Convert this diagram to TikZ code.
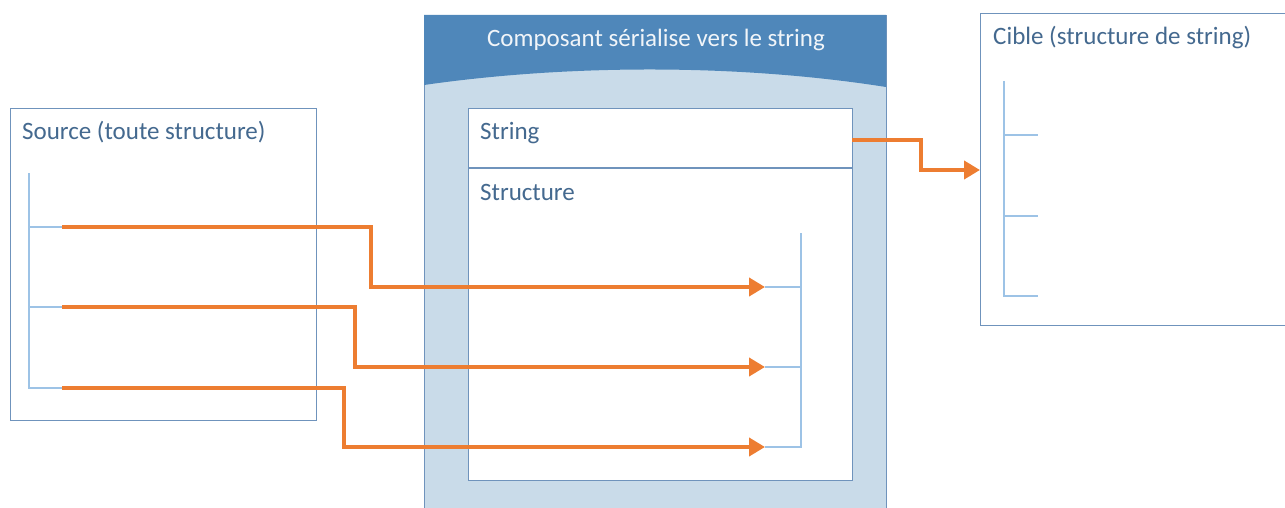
\documentclass[tikz,border=0pt]{standalone}
\usepackage{fontspec}
\setmainfont{Carlito}
\usetikzlibrary{arrows.meta}
\definecolor{boxline}{HTML}{6F93BC}
\definecolor{treeline}{HTML}{9DC3E6}
\definecolor{arrowc}{HTML}{ED7D31}
\definecolor{txt}{HTML}{44698F}
\definecolor{hdr}{HTML}{4F87BA}
\definecolor{body}{HTML}{C9DBE9}
\tikzset{
  box/.style={draw=boxline, line width=1.3pt, fill=white, anchor=north west, inner sep=0pt},
  lbl/.style={anchor=base west, text=txt, font=\fontsize{25}{30}\selectfont, inner sep=0pt},
  tree/.style={draw=treeline, line width=1.5pt},
  flow/.style={draw=arrowc, line width=4.5pt, -{Triangle[length=16pt,width=18pt]}, rounded corners=0pt}
}
\begin{document}
\begin{tikzpicture}[x=1pt,y=-1pt]
\useasboundingbox (0,0) rectangle (1285,508);
% component
\node[box, fill=body, minimum width=462pt, minimum height=500pt] (comp) at (424,15) {};
\fill[hdr] (424,15) -- (886,15) -- (886,87) .. controls (740,64) and (570,64) .. (424,85) -- cycle;
\node[anchor=base, text=white!92!hdr, font=\fontsize{25}{30}\selectfont, inner sep=0pt] (title) at (656,47) {Composant sérialise vers le string};
\node[box, minimum width=384pt, minimum height=372pt] (inner) at (468,108) {};
\draw[draw=boxline, line width=1.3pt] (inner.west |- 0,168) coordinate (divl) -- (inner.east |- 0,168) coordinate (divr);
\node[lbl] (string) at (480,140) {String};
\node[lbl] (structure) at (480,200) {Structure};
% source
\node[box, minimum width=306pt, minimum height=312pt] (src) at (10,108) {};
\node[lbl] (srclbl) at (22,140) {Source (toute structure)};
% target
\node[box, minimum width=320pt, minimum height=312pt] (tgt) at (980,13) {};
\node[lbl] (tgtlbl) at (993,45) {Cible (structure de string)};
% source tree
\coordinate (s0) at (29,173);
\coordinate (s1) at (62,227); \coordinate (s2) at (62,307); \coordinate (s3) at (62,388);
\draw[tree] (s0) -- (29,388) -- (s3);
\draw[tree] (29,227) -- (s1);
\draw[tree] (29,307) -- (s2);
% structure tree
\coordinate (d1) at (765,287); \coordinate (d2) at (765,367); \coordinate (d3) at (765,447);
\draw[tree] (801,233) -- (801,447) -- (d3);
\draw[tree] (801,287) -- (d1);
\draw[tree] (801,367) -- (d2);
% target tree
\draw[tree] (1004,81) -- (1004,296) -- (1038,296);
\draw[tree] (1004,135) -- (1038,135);
\draw[tree] (1004,216) -- (1038,216);
% flows
\draw[flow] (s1) -- (371,227) -- (371,287) -- (d1);
\draw[flow] (s2) -- (355,307) -- (355,367) -- (d2);
\draw[flow] (s3) -- (344,388) -- (344,447) -- (d3);
\coordinate (sout) at (852,140);
\draw[flow] (sout) -- (921,140) -- (921,170) -- (tgt.west |- 0,170);
\end{tikzpicture}
\end{document}
